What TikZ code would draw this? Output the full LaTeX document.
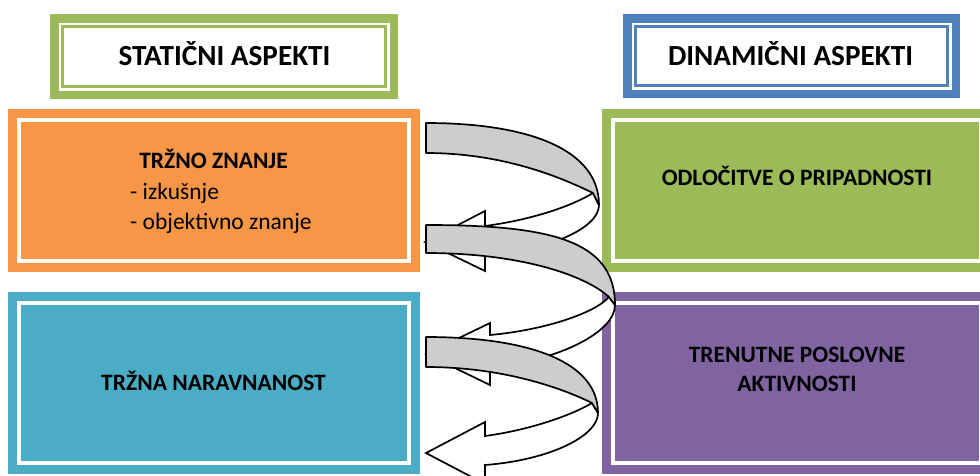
\documentclass[tikz,border=0pt]{standalone}
\usepackage{fontspec}
\setmainfont{Carlito}
\definecolor{hdrgreen}{HTML}{9BBB59}
\definecolor{hdrblue}{HTML}{4F81BD}
\definecolor{boxorange}{HTML}{F79646}
\definecolor{boxgreen}{HTML}{9BBB59}
\definecolor{boxteal}{HTML}{4BACC6}
\definecolor{boxpurple}{HTML}{8064A2}
\definecolor{ribbon}{HTML}{CDCDCD}
\begin{document}
\begin{tikzpicture}[x=1pt,y=-1pt,
  panel/.style={rectangle, draw=none, inner sep=0pt, outer sep=0pt},
  hdrtext/.style={inner sep=0pt, anchor=base, font=\fontsize{29.2}{34}\selectfont\bfseries},
  boxtext/.style={inner sep=0pt, anchor=base, font=\fontsize{23.5}{29}\selectfont\bfseries},
  itemtext/.style={inner sep=0pt, anchor=base west, font=\fontsize{23.5}{29}\selectfont},
  ribbonfront/.style={draw=black, line width=1.7pt, fill=ribbon, line join=round},
  ribbonback/.style={draw=black, line width=1.7pt, fill=white, line join=miter}]
\clip (0,0) rectangle (980,475);
\fill[white] (0,0) rectangle (980,475);

% header panels: white with a thick outer and a thin inner frame
\node[panel, fill=white, minimum width=348pt, minimum height=85pt] (hstat) at (224,56.5) {};
\node[panel, fill=white, minimum width=337pt, minimum height=84pt] (hdyn) at (791.5,56) {};
\foreach \h/\c in {hstat/hdrgreen, hdyn/hdrblue}{
  \draw[\c, line width=8.5pt] ([shift={(4.25,4.25)}]\h.north west) rectangle ([shift={(-4.25,-4.25)}]\h.south east);
  \draw[\c, line width=2.5pt] ([shift={(12.5,12.5)}]\h.north west) rectangle ([shift={(-12.5,-12.5)}]\h.south east);
}
\node[hdrtext] (tstat) at (224.5,65) {STATIČNI ASPEKTI};
\node[hdrtext] (tdyn) at (790.5,65) {DINAMIČNI ASPEKTI};

% coloured panels with an inset white line
\node[panel, fill=boxorange, minimum width=412pt, minimum height=163pt] (know) at (214,190.5) {};
\node[panel, fill=boxteal, minimum width=412pt, minimum height=182pt] (orient) at (214,383) {};
\node[panel, fill=boxgreen, minimum width=390pt, minimum height=163pt] (decide) at (797,190.5) {};
\node[panel, fill=boxpurple, minimum width=390pt, minimum height=182pt] (activ) at (797,383) {};
\foreach \b in {know, orient, decide, activ}{
  \draw[white, line width=4pt] ([shift={(11,11)}]\b.north west) rectangle ([shift={(-11,-11)}]\b.south east);
}

\node[boxtext] (knowhead) at (213.5,168) {TRŽNO ZNANJE};
\node[itemtext] (item1) at (130,199) {- izkušnje};
\node[itemtext] (item2) at (130,229) {- objektivno znanje};
\node[boxtext] (orienttext) at (213.5,390) {TRŽNA NARAVNANOST};
\node[boxtext] (decidetext) at (797,185) {ODLOČITVE O PRIPADNOSTI};
\node[boxtext] (activ1) at (797,362) {TRENUTNE POSLOVNE};
\node[boxtext] (activ2) at (797,391) {AKTIVNOSTI};

% spiral ribbon arrows (back part first, then the grey front band)
% first turn
\draw[ribbonback] (593,193) .. controls (570,207) and (530,220) .. (485,226)
  -- (485,211) -- (425,242) -- (485,271) -- (485,256)
  .. controls (550,250) and (599,228) .. (599,205) -- cycle;
\draw[ribbonfront] (426,123) .. controls (530,123) and (599,150) .. (599,205)
  -- (593,193) .. controls (570,182) and (510,153) .. (426,153) -- cycle;
% second turn
\draw[ribbonback] (609,297) .. controls (595,313) and (545,330) .. (490,335)
  -- (490,323) -- (426,354) -- (490,385) -- (490,368)
  .. controls (560,360) and (615,332) .. (615,305) -- cycle;
\draw[ribbonfront] (426,225) .. controls (550,225) and (615,240) .. (615,305)
  -- (609,297) .. controls (585,275) and (520,253) .. (426,253) -- cycle;
% third turn
\draw[ribbonback] (592,403) .. controls (572,415) and (530,430) .. (485,436)
  -- (485,422) -- (426,453) -- (485,484) -- (485,465)
  .. controls (550,460) and (598,436) .. (598,413) -- cycle;
\draw[ribbonfront] (426,337) .. controls (530,337) and (598,362) .. (598,413)
  -- (592,403) .. controls (570,392) and (510,367) .. (426,367) -- cycle;
\end{tikzpicture}
\end{document}
